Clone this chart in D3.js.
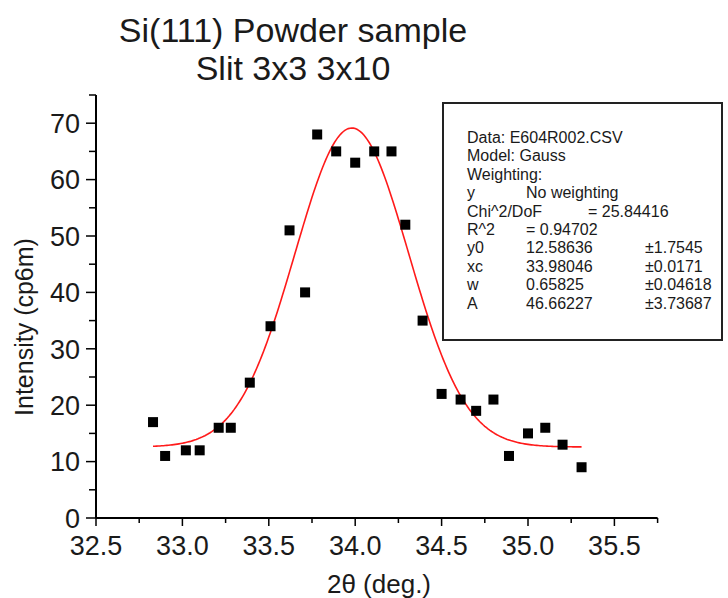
<!DOCTYPE html>
<html lang="en">
<head>
    <meta charset="UTF-8">
    <title>Si(111) Powder sample</title>
    <style>
        body {
            margin: 0;
            background: #fff;
            font-family: Arial, "Liberation Sans", sans-serif;
        }
        svg text {
            fill: #1a1a1a;
        }
    </style>
</head>
<body>
    <div id="chart"></div>

    <script src="https://d3js.org/d3.v7.min.js"></script>
    <script>
        // measured points (2theta, intensity)
        const twoTheta = [32.83, 32.90, 33.02, 33.10, 33.21, 33.28, 33.39, 33.51, 33.62, 33.71,
                          33.78, 33.89, 34.00, 34.11, 34.21, 34.29, 34.39, 34.50, 34.61, 34.70,
                          34.80, 34.89, 35.00, 35.10, 35.20, 35.31];
        const intensity = [17, 11, 12, 12, 16, 16, 24, 34, 51, 40,
                           68, 65, 63, 65, 65, 52, 35, 22, 21, 19,
                           21, 11, 15, 16, 13, 9];

        // fit parameters as printed in the box
        const fitY0 = 12.58636;
        const fitXc = 33.98046;
        const fitW = 0.65825;
        const fitA = 46.66227;

        const xTicks = [32.5, 33.0, 33.5, 34.0, 34.5, 35.0, 35.5];
        const yTicks = [0, 10, 20, 30, 40, 50, 60, 70];

        const titleLines = ["Si(111) Powder sample", "Slit 3x3 3x10"];
        const boxRows = [
            ["Data: E604R002.CSV", "", ""],
            ["Model: Gauss", "", ""],
            ["Weighting:", "", ""],
            ["y", "No weighting", ""],
            ["Chi^2/DoF", "", ""],
            ["R^2", "=  0.94702", ""],
            ["y0", "12.58636", "\u00b11.7545"],
            ["xc", "33.98046", "\u00b10.0171"],
            ["w", "0.65825", "\u00b10.04618"],
            ["A", "46.66227", "\u00b13.73687"]
        ];
        const chiText = "=  25.84416";

        const width = 728, height = 598;
        const svg = d3.select("#chart").append("svg")
            .attr("width", width)
            .attr("height", height);

        // Scales
        const xScale = d3.scaleLinear().domain([32.5, 35.75]).range([96, 657.6]);
        const yScale = d3.scaleLinear().domain([0, 75]).range([518, 95]);

        // Title
        svg.selectAll(".title")
            .data(titleLines)
            .enter().append("text")
            .attr("class", "title")
            .attr("x", 293)
            .attr("y", (d, i) => 42 + i * 38)
            .attr("text-anchor", "middle")
            .style("font-size", "34px")
            .text(d => d);

        // X axis
        const xAxis = svg.append("g")
            .attr("transform", `translate(0, ${yScale(0)})`);
        xAxis.append("line")
            .attr("x1", xScale(32.5)).attr("x2", xScale(35.75))
            .attr("stroke", "#000").attr("stroke-width", 2);
        const xMinor = d3.range(32.75, 35.8, 0.5);
        xAxis.selectAll(".xminor").data(xMinor).enter().append("line")
            .attr("x1", d => xScale(d)).attr("x2", d => xScale(d))
            .attr("y1", 0).attr("y2", 5)
            .attr("stroke", "#000").attr("stroke-width", 1.5);
        xAxis.selectAll(".xmajor").data(xTicks).enter().append("line")
            .attr("x1", d => xScale(d)).attr("x2", d => xScale(d))
            .attr("y1", 0).attr("y2", 8)
            .attr("stroke", "#000").attr("stroke-width", 1.5);
        xAxis.selectAll(".xlabel").data(xTicks).enter().append("text")
            .attr("x", d => xScale(d))
            .attr("y", 37)
            .attr("text-anchor", "middle")
            .style("font-size", "27px")
            .text(d => d.toFixed(1));

        // Y axis
        const yAxis = svg.append("g")
            .attr("transform", `translate(${xScale(32.5)}, 0)`);
        yAxis.append("line")
            .attr("y1", yScale(0)).attr("y2", yScale(75))
            .attr("stroke", "#000").attr("stroke-width", 2);
        const yMinor = d3.range(5, 76, 10);
        yAxis.selectAll(".yminor").data(yMinor).enter().append("line")
            .attr("y1", d => yScale(d)).attr("y2", d => yScale(d))
            .attr("x1", 0).attr("x2", -7)
            .attr("stroke", "#000").attr("stroke-width", 1.5);
        yAxis.selectAll(".ymajor").data(yTicks).enter().append("line")
            .attr("y1", d => yScale(d)).attr("y2", d => yScale(d))
            .attr("x1", 0).attr("x2", -10)
            .attr("stroke", "#000").attr("stroke-width", 1.5);
        yAxis.selectAll(".ylabel").data(yTicks).enter().append("text")
            .attr("x", -16)
            .attr("y", d => yScale(d))
            .attr("dy", "0.36em")
            .attr("text-anchor", "end")
            .style("font-size", "27px")
            .text(d => d);

        // Axis titles
        svg.append("text")
            .attr("x", 379).attr("y", 593)
            .attr("text-anchor", "middle")
            .style("font-size", "26px")
            .text("2\u03b8 (deg.)");
        svg.append("text")
            .attr("transform", "translate(33, 327) rotate(-90)")
            .attr("text-anchor", "middle")
            .style("font-size", "25px")
            .text("Intensity (cp6m)");

        // Gauss fit curve
        const gauss = x => fitY0 + fitA / (fitW * Math.sqrt(Math.PI / 2)) *
            Math.exp(-2 * Math.pow((x - fitXc) / fitW, 2));
        const curveX = d3.range(d3.min(twoTheta), d3.max(twoTheta) + 0.001, 0.01);
        svg.append("path")
            .datum(curveX)
            .attr("fill", "none")
            .attr("stroke", "#ff1a1a")
            .attr("stroke-width", 1.6)
            .attr("d", d3.line().x(d => xScale(d)).y(d => yScale(gauss(d))));

        // Data squares
        const sq = 10;
        svg.selectAll(".point")
            .data(twoTheta)
            .enter().append("rect")
            .attr("class", "point")
            .attr("x", d => xScale(d) - sq / 2)
            .attr("y", (d, i) => yScale(intensity[i]) - sq / 2)
            .attr("width", sq).attr("height", sq)
            .attr("fill", "#000");

        // Fit result box
        const box = svg.append("g");
        box.append("rect")
            .attr("x", 443).attr("y", 103)
            .attr("width", 279).attr("height", 237)
            .attr("fill", "#fff")
            .attr("stroke", "#222").attr("stroke-width", 2);
        const colX = [467, 526, 645];
        boxRows.forEach((row, i) => {
            row.forEach((cell, j) => {
                if (!cell) return;
                box.append("text")
                    .attr("x", colX[j])
                    .attr("y", 143 + i * 18.4)
                    .style("font-size", "16px")
                    .text(cell);
            });
        });
        box.append("text")
            .attr("x", 588)
            .attr("y", 143 + 4 * 18.4)
            .style("font-size", "16px")
            .text(chiText);
    </script>
</body>
</html>
